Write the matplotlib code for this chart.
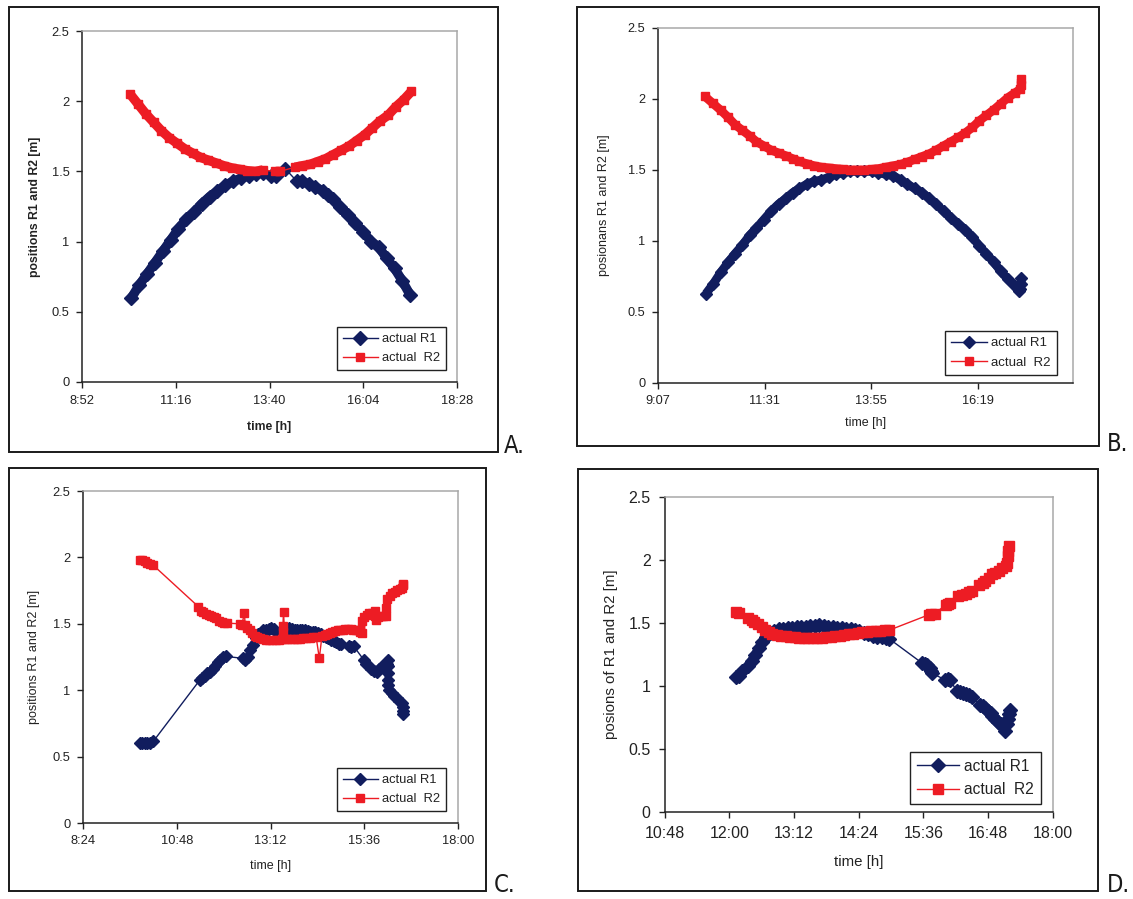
import numpy as np
import matplotlib
matplotlib.use("Agg")
import matplotlib.pyplot as plt
from matplotlib.patches import Rectangle
from matplotlib.ticker import FuncFormatter

plt.rcParams["font.family"] = ["Liberation Sans", "DejaVu Sans"]

NAVY = "#111d5e"
RED = "#ed1c24"

# Logged positions as runs of dense samples: (clock time, position in m).
# Consecutive runs are joined by the thin series line only.
A_R1 = [
    [("10:08", 0.60), ("10:20", 0.69), ("10:32", 0.77), ("10:44", 0.85), ("10:56", 0.93),
     ("11:08", 1.01), ("11:20", 1.09), ("11:32", 1.16), ("11:44", 1.21), ("11:56", 1.27),
     ("12:08", 1.32), ("12:20", 1.36), ("12:32", 1.40), ("12:44", 1.43), ("12:56", 1.45),
     ("13:08", 1.47), ("13:20", 1.48), ("13:30", 1.49)],
    [("13:42", 1.47), ("13:50", 1.47)],
    [("14:04", 1.52)],
    [("14:22", 1.43), ("14:30", 1.43), ("14:40", 1.41), ("14:50", 1.39), ("15:02", 1.36),
     ("15:10", 1.33), ("15:18", 1.30), ("15:28", 1.25), ("15:40", 1.19), ("15:52", 1.13),
     ("16:04", 1.07), ("16:16", 1.00), ("16:28", 0.96), ("16:40", 0.88), ("16:52", 0.81),
     ("17:04", 0.72), ("17:16", 0.62)],
]
A_R2 = [
    [("10:06", 2.05), ("10:18", 1.98), ("10:30", 1.91), ("10:42", 1.85), ("10:54", 1.79),
     ("11:06", 1.74), ("11:18", 1.70), ("11:30", 1.66), ("11:42", 1.63), ("11:54", 1.60),
     ("12:06", 1.58), ("12:18", 1.56), ("12:30", 1.54), ("12:42", 1.525), ("12:54", 1.515),
     ("13:06", 1.505), ("13:18", 1.50), ("13:30", 1.51)],
    [("13:48", 1.50), ("13:56", 1.50)],
    [("14:19", 1.53), ("14:30", 1.54), ("14:42", 1.55), ("14:54", 1.57), ("15:06", 1.59),
     ("15:18", 1.62), ("15:30", 1.65), ("15:42", 1.68), ("15:54", 1.72), ("16:06", 1.76),
     ("16:18", 1.81), ("16:30", 1.86), ("16:42", 1.90), ("16:54", 1.96), ("17:06", 2.01),
     ("17:18", 2.07)],
]

B_R1 = [
    [("10:12", 0.63), ("10:22", 0.70), ("10:32", 0.78), ("10:42", 0.85), ("10:51", 0.91),
     ("11:01", 0.97), ("11:11", 1.04), ("11:20", 1.09), ("11:30", 1.15), ("11:40", 1.21),
     ("11:50", 1.26), ("12:00", 1.30), ("12:09", 1.34), ("12:18", 1.37), ("12:28", 1.40),
     ("12:38", 1.42), ("12:48", 1.43), ("12:58", 1.45), ("13:07", 1.47), ("13:17", 1.48),
     ("13:27", 1.49), ("13:36", 1.49), ("13:46", 1.49), ("13:56", 1.49), ("14:05", 1.48),
     ("14:15", 1.47), ("14:25", 1.46), ("14:35", 1.43), ("14:44", 1.40), ("14:54", 1.37),
     ("15:04", 1.34), ("15:14", 1.30), ("15:23", 1.26), ("15:33", 1.21), ("15:43", 1.16),
     ("15:53", 1.12), ("16:02", 1.08), ("16:12", 1.03), ("16:21", 0.965), ("16:31", 0.91),
     ("16:41", 0.85), ("16:50", 0.79), ("17:00", 0.73), ("17:08", 0.69), ("17:15", 0.65),
     ("17:17", 0.66), ("17:18", 0.70), ("17:18", 0.74)],
]
B_R2 = [
    [("10:10", 2.02), ("10:21", 1.97), ("10:32", 1.92), ("10:42", 1.87), ("10:51", 1.82),
     ("11:01", 1.78), ("11:11", 1.74), ("11:20", 1.70), ("11:30", 1.67), ("11:40", 1.64),
     ("11:50", 1.62), ("12:00", 1.60), ("12:09", 1.58), ("12:18", 1.56), ("12:28", 1.545),
     ("12:38", 1.53), ("12:48", 1.52), ("12:58", 1.515), ("13:07", 1.51), ("13:17", 1.505),
     ("13:27", 1.50), ("13:36", 1.50), ("13:46", 1.50), ("13:56", 1.505), ("14:05", 1.51),
     ("14:15", 1.52), ("14:25", 1.53), ("14:35", 1.54), ("14:44", 1.555), ("14:54", 1.575),
     ("15:04", 1.595), ("15:14", 1.615), ("15:23", 1.64), ("15:33", 1.67), ("15:43", 1.70),
     ("15:53", 1.73), ("16:02", 1.76), ("16:12", 1.80), ("16:21", 1.845), ("16:31", 1.885),
     ("16:41", 1.925), ("16:50", 1.965), ("17:00", 2.01), ("17:10", 2.045), ("17:17", 2.07),
     ("17:18", 2.10), ("17:18", 2.14)],
]

C_R1 = [
    [("9:51", 0.60), ("9:55", 0.60), ("9:59", 0.60), ("10:03", 0.60), ("10:07", 0.60),
     ("10:12", 0.615)],
    [("11:24", 1.08), ("11:27", 1.09), ("11:31", 1.11), ("11:35", 1.13), ("11:39", 1.14),
     ("11:43", 1.16), ("11:47", 1.18), ("11:51", 1.21), ("11:55", 1.23), ("11:59", 1.25),
     ("12:03", 1.255)],
    [("12:29", 1.24), ("12:33", 1.23), ("12:37", 1.25), ("12:41", 1.30), ("12:45", 1.34),
     ("12:49", 1.39), ("12:53", 1.42), ("12:57", 1.43), ("13:01", 1.45), ("13:05", 1.455),
     ("13:09", 1.46), ("13:13", 1.465), ("13:17", 1.46), ("13:21", 1.44), ("13:25", 1.42),
     ("13:29", 1.42), ("13:33", 1.43), ("13:37", 1.45), ("13:41", 1.465), ("13:45", 1.46),
     ("13:49", 1.455), ("13:53", 1.45), ("13:57", 1.455), ("14:01", 1.45), ("14:05", 1.45),
     ("14:09", 1.445), ("14:13", 1.44), ("14:17", 1.44), ("14:21", 1.435), ("14:25", 1.43),
     ("14:29", 1.42), ("14:33", 1.41), ("14:37", 1.40), ("14:41", 1.39), ("14:45", 1.38),
     ("14:49", 1.37), ("14:53", 1.36), ("14:57", 1.35), ("15:01", 1.345)],
    [("15:12", 1.33), ("15:16", 1.325), ("15:20", 1.33)],
    [("15:35", 1.23), ("15:39", 1.20), ("15:43", 1.18), ("15:47", 1.16), ("15:51", 1.145),
     ("15:55", 1.14), ("15:59", 1.16), ("16:03", 1.18), ("16:07", 1.19), ("16:11", 1.20),
     ("16:12", 1.23), ("16:12", 1.18), ("16:12", 1.13), ("16:13", 1.08), ("16:13", 1.04),
     ("16:14", 1.00), ("16:18", 0.98), ("16:22", 0.96), ("16:26", 0.94), ("16:30", 0.92),
     ("16:34", 0.90), ("16:35", 0.87), ("16:36", 0.84), ("16:36", 0.82)],
]
C_R2 = [
    [("9:51", 1.98), ("9:55", 1.98), ("9:59", 1.975), ("10:03", 1.96), ("10:07", 1.95),
     ("10:11", 1.945)],
    [("11:21", 1.63), ("11:25", 1.60), ("11:29", 1.59), ("11:33", 1.575), ("11:37", 1.565),
     ("11:41", 1.56), ("11:45", 1.55), ("11:49", 1.54), ("11:53", 1.52), ("11:57", 1.51),
     ("12:01", 1.505), ("12:05", 1.505)],
    [("12:25", 1.50), ("12:28", 1.49)],
    [("12:32", 1.585)],
    [("12:33", 1.49), ("12:36", 1.47), ("12:40", 1.45), ("12:44", 1.43), ("12:48", 1.41),
     ("12:52", 1.40), ("12:56", 1.39), ("13:00", 1.385), ("13:05", 1.38), ("13:10", 1.378),
     ("13:15", 1.378), ("13:20", 1.378), ("13:25", 1.38), ("13:29", 1.383),
     ("13:31", 1.44), ("13:31", 1.48)],
    [("13:32", 1.59)],
    [("13:34", 1.385), ("13:38", 1.383), ("13:43", 1.383), ("13:48", 1.383), ("13:52", 1.383),
     ("13:57", 1.386), ("14:02", 1.39), ("14:07", 1.393), ("14:12", 1.396), ("14:17", 1.40),
     ("14:22", 1.403)],
    [("14:27", 1.24)],
    [("14:31", 1.408), ("14:35", 1.415), ("14:39", 1.42), ("14:43", 1.428), ("14:47", 1.435),
     ("14:51", 1.445), ("14:55", 1.45), ("14:59", 1.455), ("15:03", 1.457), ("15:07", 1.459),
     ("15:11", 1.459), ("15:15", 1.459), ("15:19", 1.457), ("15:23", 1.455), ("15:27", 1.453),
     ("15:30", 1.44), ("15:32", 1.43), ("15:33", 1.52), ("15:36", 1.55), ("15:40", 1.57),
     ("15:44", 1.58), ("15:48", 1.585), ("15:52", 1.595), ("15:53", 1.56), ("15:54", 1.53),
     ("15:57", 1.55), ("16:01", 1.555), ("16:05", 1.555), ("16:09", 1.555), ("16:10", 1.62),
     ("16:11", 1.69), ("16:15", 1.71), ("16:19", 1.73), ("16:23", 1.74), ("16:27", 1.755),
     ("16:31", 1.765), ("16:34", 1.77), ("16:36", 1.79), ("16:36", 1.80)],
]

D_R1 = [
    [("12:08", 1.07), ("12:11", 1.08), ("12:14", 1.12)],
    [("12:21", 1.16), ("12:25", 1.20), ("12:29", 1.25), ("12:33", 1.30), ("12:37", 1.35),
     ("12:41", 1.39), ("12:45", 1.42), ("12:50", 1.44), ("12:55", 1.45), ("13:00", 1.455),
     ("13:05", 1.46), ("13:10", 1.46), ("13:15", 1.465), ("13:20", 1.47), ("13:25", 1.47),
     ("13:30", 1.475), ("13:35", 1.48), ("13:40", 1.485), ("13:45", 1.475), ("13:50", 1.47),
     ("13:55", 1.465), ("14:00", 1.46), ("14:05", 1.46), ("14:10", 1.455), ("14:15", 1.45),
     ("14:20", 1.445), ("14:25", 1.435), ("14:30", 1.42), ("14:35", 1.41), ("14:40", 1.40),
     ("14:45", 1.39), ("14:50", 1.385), ("14:55", 1.38), ("14:58", 1.375)],
    [("15:35", 1.18), ("15:38", 1.175), ("15:40", 1.17), ("15:43", 1.14), ("15:45", 1.12),
     ("15:46", 1.10)],
    [("16:00", 1.05), ("16:03", 1.055), ("16:06", 1.05)],
    [("16:13", 0.96), ("16:17", 0.95), ("16:20", 0.945), ("16:23", 0.935), ("16:27", 0.925),
     ("16:30", 0.91)],
    [("16:39", 0.85), ("16:42", 0.84), ("16:45", 0.825), ("16:48", 0.805), ("16:51", 0.785),
     ("16:53", 0.765), ("16:56", 0.735), ("16:59", 0.715), ("17:02", 0.695), ("17:04", 0.68),
     ("17:07", 0.64), ("17:09", 0.70), ("17:10", 0.74), ("17:11", 0.78), ("17:12", 0.81)],
]
D_R2 = [
    [("12:08", 1.59), ("12:11", 1.58)],
    [("12:21", 1.54), ("12:25", 1.525), ("12:28", 1.51), ("12:32", 1.49), ("12:36", 1.47),
     ("12:40", 1.445), ("12:44", 1.425), ("12:48", 1.41), ("12:53", 1.405), ("12:58", 1.40),
     ("13:03", 1.395), ("13:08", 1.39), ("13:13", 1.385), ("13:18", 1.38), ("13:23", 1.378),
     ("13:28", 1.378), ("13:33", 1.378), ("13:38", 1.38), ("13:43", 1.383), ("13:48", 1.386),
     ("13:53", 1.39), ("13:58", 1.395), ("14:03", 1.40), ("14:08", 1.405), ("14:13", 1.41),
     ("14:18", 1.415), ("14:23", 1.42), ("14:28", 1.425), ("14:33", 1.43), ("14:38", 1.435),
     ("14:43", 1.44), ("14:48", 1.44), ("14:53", 1.443), ("14:58", 1.443)],
    [("15:42", 1.565), ("15:45", 1.57), ("15:49", 1.575)],
    [("16:01", 1.645), ("16:04", 1.65), ("16:06", 1.655)],
    [("16:15", 1.715), ("16:19", 1.725), ("16:23", 1.73), ("16:27", 1.745), ("16:30", 1.755)],
    [("16:38", 1.80), ("16:42", 1.82), ("16:45", 1.835), ("16:49", 1.86), ("16:52", 1.885),
     ("16:56", 1.90), ("17:00", 1.915), ("17:04", 1.935), ("17:08", 1.95), ("17:09", 1.98),
     ("17:10", 2.03), ("17:10", 2.07), ("17:11", 2.11)],
]

Y_TICKS = [0, 0.5, 1, 1.5, 2, 2.5]

W, H = 1133, 899


def minutes(clock):
    h, m = clock.split(":")
    return int(h) * 60 + int(m)


def hhmm(x, _pos=None):
    m = int(round(x))
    return f"{m // 60}:{m % 60:02d}"


def draw_series(ax, runs, color, marker, ms, band, label, z):
    ts = [minutes(t) for run in runs for t, _ in run]
    vs = [v for run in runs for _, v in run]
    ax.plot(ts, vs, color=color, lw=1.0, marker=marker, ms=ms, mfc=color, mec=color,
            label=label, zorder=z)
    for run in runs:
        if len(run) > 1:
            ax.plot([minutes(t) for t, _ in run], [v for _, v in run], color=color,
                    lw=band, solid_capstyle="butt", solid_joinstyle="round", zorder=z)


def panel(box, frame, letter, letter_xy, x0, x1, step, r1, r2, ylabel, bold,
          fs_tick, fs_lab, fs_leg, ms, band, leg_anchor, ylab_x, xlab_y, tick_pad):
    l, t, r, b = box
    ax = fig.add_axes([l / W, 1 - b / H, (r - l) / W, (b - t) / H])

    draw_series(ax, r1, NAVY, "D", ms, band, "actual R1", 2)
    draw_series(ax, r2, RED, "s", ms * 0.9, band, "actual  R2", 3)

    ax.set_xlim(minutes(x0), minutes(x1))
    ax.set_ylim(0, 2.5)
    ax.set_xticks(np.arange(minutes(x0), minutes(x1) + 0.5, step))
    ax.xaxis.set_major_formatter(FuncFormatter(hhmm))
    ax.set_yticks(Y_TICKS)
    ax.yaxis.set_major_formatter(FuncFormatter(lambda v, _p: f"{v:g}"))
    ax.tick_params(direction="out", length=4, width=1, colors="#222222",
                   labelsize=fs_tick, pad=tick_pad)
    for side in ("left", "bottom"):
        ax.spines[side].set_color("#222222")
        ax.spines[side].set_linewidth(1.1)
    for side in ("top", "right"):
        ax.spines[side].set_color("#a8a8a8")
        ax.spines[side].set_linewidth(1.1)

    weight = "bold" if bold else "normal"
    ax.set_xlabel("time [h]", fontsize=fs_lab, fontweight=weight, color="#222222")
    ax.set_ylabel(ylabel, fontsize=fs_lab, fontweight=weight, color="#222222")
    ax.xaxis.set_label_coords(0.5, xlab_y)
    ax.yaxis.set_label_coords(ylab_x, 0.5)

    leg = ax.legend(loc="lower right", bbox_to_anchor=leg_anchor, fontsize=fs_leg,
                    frameon=True, fancybox=False, framealpha=1, edgecolor="#222222",
                    handlelength=2.7, handletextpad=0.35, labelspacing=0.55,
                    borderpad=0.45, borderaxespad=0, numpoints=1)
    leg.get_frame().set_linewidth(1.0)
    for txt in leg.get_texts():
        txt.set_color("#222222")

    fx0, fy0, fx1, fy1 = frame
    fig.add_artist(Rectangle((fx0 / W, 1 - fy1 / H), (fx1 - fx0) / W, (fy1 - fy0) / H,
                             transform=fig.transFigure, fill=False,
                             edgecolor="#1a1a1a", linewidth=1.4))
    fig.text(letter_xy[0] / W, 1 - letter_xy[1] / H, letter, fontsize=17,
             family=["DejaVu Sans"], fontstretch="condensed", fontweight="light",
             color="#1a1a1a", ha="left", va="bottom")
    return ax


fig = plt.figure(figsize=(W / 100, H / 100), dpi=100)
fig.patch.set_facecolor("white")

panel((82, 31, 457, 382), (9, 7, 498, 452), "A.", (504, 458), "8:52", "18:28", 144,
      A_R1, A_R2, "positions R1 and R2 [m]", True, 9.3, 8.8, 9.3, 7.0, 6.8,
      (0.971, 0.034), -0.11, -0.11, 5)
panel((658, 28, 1073, 383), (577, 7, 1099, 446), "B.", (1107, 456), "9:07", "18:28", 144,
      B_R1, B_R2, "posionans R1 and R2 [m]", False, 9.2, 9.0, 9.5, 6.5, 6.3,
      (0.961, 0.023), -0.115, -0.095, 5)
panel((83, 491, 458, 823), (9, 468, 486, 891), "C.", (494, 897), "8:24", "18:00", 144,
      C_R1, C_R2, "positions R1 and R2 [m]", False, 9.3, 9.0, 9.3, 5.8, 5.0,
      (0.968, 0.036), -0.115, -0.11, 5)
panel((664.5, 497, 1052.7, 812), (578, 469, 1098, 891), "D.", (1107, 897), "10:48", "18:00", 72,
      D_R1, D_R2, "posions of R1 and R2 [m]", False, 11.5, 10.8, 11.2, 7.5, 6.5,
      (0.970, 0.025), -0.12, -0.135, 6)

fig.savefig("out.png", dpi=100)
